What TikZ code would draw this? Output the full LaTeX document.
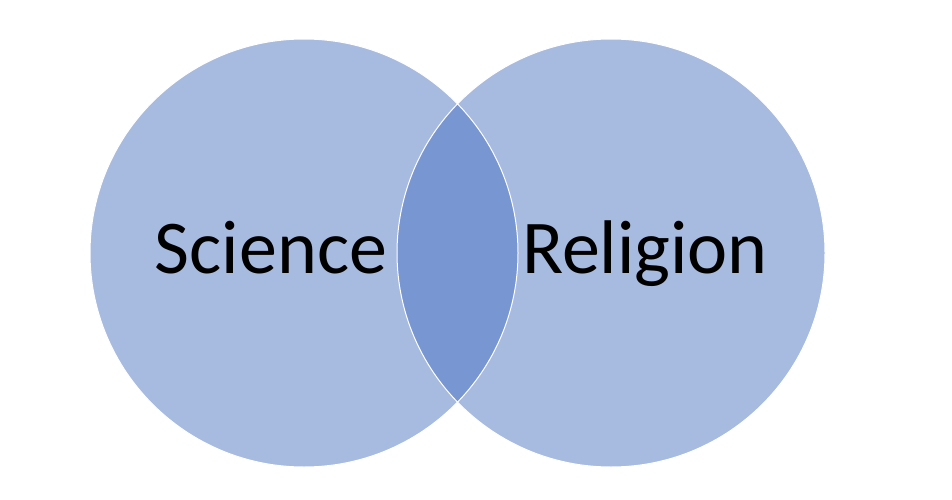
\documentclass[tikz,border=0pt]{standalone}
\usepackage{fontspec}
\setmainfont{Carlito}
\definecolor{circfill}{HTML}{A7BADF}
\definecolor{overlapfill}{HTML}{7896D2}
\tikzset{
  setlabel/.style={font=\fontsize{76}{80}\selectfont, text=black, anchor=base, inner sep=0pt}
}
\begin{document}
\begin{tikzpicture}[x=1pt, y=1pt]
\useasboundingbox (0,0) rectangle (952,499);

% the two sets
\fill[circfill] (304,246) circle (214);
\fill[circfill] (611,246) circle (214);
\begin{scope}
  \clip (304,246) circle (214);
  \fill[overlapfill] (611,246) circle (214);
\end{scope}
\draw[white, line width=1pt] (304,246) circle (214);
\draw[white, line width=1pt] (611,246) circle (214);

\node[setlabel, name=science] at (271,226) {Science};
\node[setlabel, name=religion] at (645,226) {Religion};

\end{tikzpicture}
\end{document}
